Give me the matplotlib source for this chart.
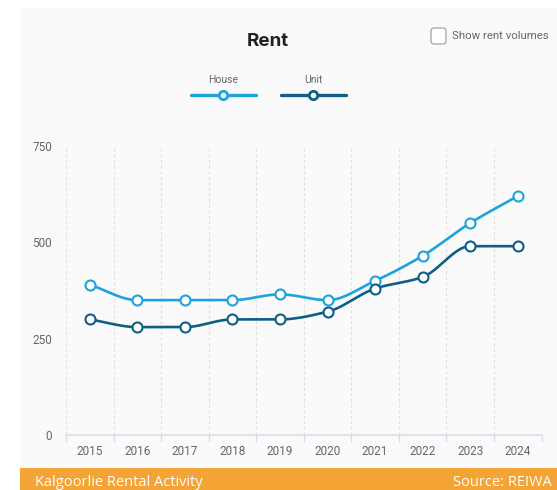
import numpy as np
import matplotlib
matplotlib.use("Agg")
import matplotlib.pyplot as plt
from matplotlib.patches import Rectangle, FancyBboxPatch
from matplotlib.lines import Line2D

years = [2015, 2016, 2017, 2018, 2019, 2020, 2021, 2022, 2023, 2024]
house = [390, 350, 350, 350, 365, 350, 400, 465, 550, 620]
unit = [300, 280, 280, 300, 300, 320, 380, 410, 490, 490]
yticks = [0, 250, 500, 750]

HOUSE_C = "#1fa3dd"
UNIT_C = "#0d5f86"
GRID_C = "#e2e2e2"
TEXT_C = "#666666"


def monotone(x, y, n=30):
    # Fritsch-Carlson monotone cubic, for the smoothed line only
    x = np.asarray(x, float)
    y = np.asarray(y, float)
    h = np.diff(x)
    d = np.diff(y) / h
    m = np.zeros_like(y)
    m[0], m[-1] = d[0], d[-1]
    for i in range(1, len(y) - 1):
        if d[i - 1] * d[i] <= 0:
            m[i] = 0
        else:
            m[i] = 3 * (h[i - 1] + h[i]) / ((2 * h[i] + h[i - 1]) / d[i - 1] + (h[i] + 2 * h[i - 1]) / d[i])
    xs, ys = [], []
    for i in range(len(x) - 1):
        t = np.linspace(0, 1, n)
        h00 = 2 * t**3 - 3 * t**2 + 1
        h10 = t**3 - 2 * t**2 + t
        h01 = -2 * t**3 + 3 * t**2
        h11 = t**3 - t**2
        xs.append(x[i] + t * h[i])
        ys.append(h00 * y[i] + h10 * h[i] * m[i] + h01 * y[i + 1] + h11 * h[i] * m[i + 1])
    return np.concatenate(xs), np.concatenate(ys)


W, H = 557, 490
fig = plt.figure(figsize=(W / 100, H / 100), dpi=100)
fig.patch.set_facecolor("white")

# panel and footer band, kept behind the axes
fig.patches.append(Rectangle((20 / W, 22 / H), 537 / W, 460 / H, transform=fig.transFigure,
                             facecolor="#fafafa", edgecolor="none", zorder=-5))
fig.patches.append(Rectangle((20 / W, 0), 537 / W, 22 / H, transform=fig.transFigure,
                             facecolor="#f4a335", edgecolor="none", zorder=-5))
fig.text(35 / W, 8 / H, "Kalgoorlie Rental Activity", color="white", fontsize=10.5,
         family="Open Sans", va="center", ha="left")
fig.text(552 / W, 8 / H, "Source: REIWA", color="white", fontsize=10.5,
         family="Open Sans", va="center", ha="right")

ax = fig.add_axes([66 / W, 55 / H, 475.5 / W, 289 / H])
ax.set_facecolor("none")
x = np.arange(len(years))

for vals, col in [(house, HOUSE_C), (unit, UNIT_C)]:
    sx, sy = monotone(x, vals)
    ax.plot(sx, sy, color=col, lw=1.9, solid_capstyle="round", zorder=3)
    ax.plot(x, vals, "o", ms=7.2, mfc="white", mec=col, mew=1.5, zorder=4)

ax.set_xlim(-0.5, len(years) - 0.5)
ax.set_ylim(0, 750)
ax.set_yticks(yticks)
ax.set_yticklabels([str(v) for v in yticks])
ax.set_xticks(x)
ax.set_xticklabels([str(y) for y in years])
ax.set_xticks(np.arange(-0.5, len(years)), minor=True)
for b in np.arange(-0.5, len(years)):
    ax.axvline(b, color=GRID_C, lw=0.8, ls=(0, (3, 2)), zorder=1)

for s in ["top", "right", "left"]:
    ax.spines[s].set_visible(False)
ax.spines["bottom"].set_color("#d8deeb")
ax.spines["bottom"].set_linewidth(1.2)
ax.tick_params(axis="y", length=0, pad=10, labelsize=8.5, labelcolor=TEXT_C)
ax.tick_params(axis="x", which="major", length=0, pad=7, labelsize=8.5, labelcolor=TEXT_C)
ax.tick_params(axis="x", which="minor", length=5, color="#d8deeb", width=1)
for lab in ax.get_xticklabels() + ax.get_yticklabels():
    lab.set_family("Roboto")

# title
fig.text(268 / W, 1 - 41 / H, "Rent", fontsize=13.5, fontweight="bold", color="#222222",
         family="Inter", ha="center", va="center")

# legend
for cx, name, col in [(223, "House", HOUSE_C), (313, "Unit", UNIT_C)]:
    fig.text(cx / W, 1 - 80 / H, name, fontsize=7.5, color=TEXT_C, family="Roboto",
             ha="center", va="center")
    yy = 1 - 95 / H
    fig.add_artist(Line2D([(cx - 32) / W, (cx + 33) / W], [yy, yy], color=col, lw=2.4,
                          transform=fig.transFigure, solid_capstyle="round"))
    fig.add_artist(Line2D([cx / W], [yy], marker="o", ms=6, mfc="white", mec=col, mew=2,
                          transform=fig.transFigure))

# checkbox
fig.patches.append(FancyBboxPatch((431 / W, 1 - 44 / H), 15 / W, 16 / H,
                                  boxstyle="round,pad=0,rounding_size=0.006",
                                  transform=fig.transFigure, facecolor="white",
                                  edgecolor="#aaaaaa", lw=1))
fig.text(452 / W, 1 - 36 / H, "Show rent volumes", fontsize=8.2, color=TEXT_C,
         family="Roboto", ha="left", va="center")

fig.savefig("out.png", dpi=100)
